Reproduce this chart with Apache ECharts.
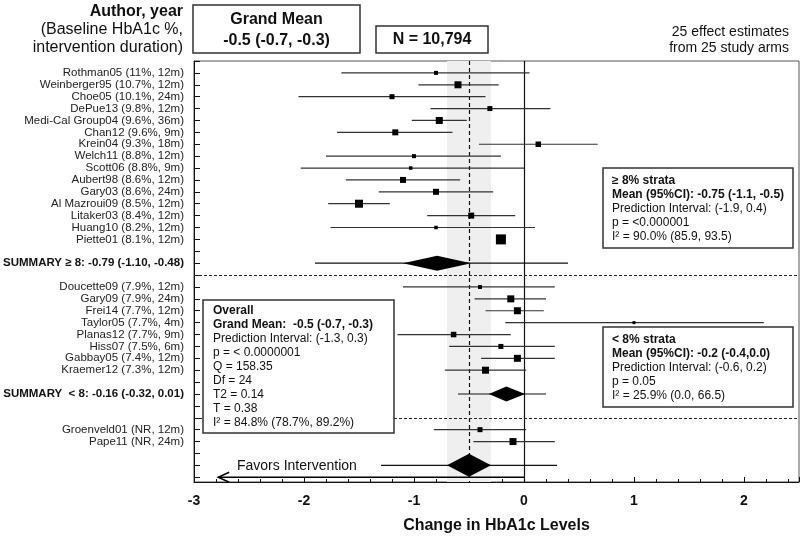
<!DOCTYPE html>
<html><head><meta charset="utf-8">
<script src="https://cdn.jsdelivr.net/npm/echarts@6/dist/echarts.min.js"></script>
<style>html,body{margin:0;padding:0;background:#fff}#c{width:800px;height:539px}</style>
</head><body><div id="c"></div>
<script>
// ---- data ----
const studyNames = ['Rothman05 (11%, 12m)','Weinberger95 (10.7%, 12m)','Choe05 (10.1%, 24m)','DePue13 (9.8%, 12m)','Medi-Cal Group04 (9.6%, 36m)','Chan12 (9.6%, 9m)','Krein04 (9.3%, 18m)','Welch11 (8.8%, 12m)','Scott06 (8.8%, 9m)','Aubert98 (8.6%, 12m)','Gary03 (8.6%, 24m)','Al Mazroui09 (8.5%, 12m)','Litaker03 (8.4%, 12m)','Huang10 (8.2%, 12m)','Piette01 (8.1%, 12m)','Doucette09 (7.9%, 12m)','Gary09 (7.9%, 24m)','Frei14 (7.7%, 12m)','Taylor05 (7.7%, 4m)','Planas12 (7.7%, 9m)','Hiss07 (7.5%, 6m)','Gabbay05 (7.4%, 12m)','Kraemer12 (7.3%, 12m)','Groenveld01 (NR, 12m)','Pape11 (NR, 24m)'];
const studyRows = [1,2,3,4,5,6,7,8,9,10,11,12,13,14,15,19,20,21,22,23,24,25,26,31,32];
const studyEst = [-0.80,-0.60,-1.20,-0.31,-0.77,-1.17,0.13,-1.00,-1.03,-1.10,-0.80,-1.50,-0.48,-0.80,-0.21,-0.40,-0.12,-0.06,1.00,-0.64,-0.21,-0.06,-0.35,-0.40,-0.10];
const studyLo  = [-1.66,-0.96,-2.05,-0.85,-1.02,-1.70,-0.41,-1.80,-2.03,-1.62,-1.32,-1.78,-0.88,-1.76,-0.24,-1.10,-0.45,-0.35,-0.17,-1.15,-0.68,-0.39,-0.72,-0.82,-0.46];
const studyHi  = [0.05,-0.23,-0.35,0.24,-0.52,-0.65,0.67,-0.21,0.00,-0.58,-0.28,-1.22,-0.08,0.10,-0.18,0.28,0.20,0.18,2.18,-0.12,0.28,0.28,0.02,0.02,0.28];
const studyWeight = [4,7,5,5,7,6,5.5,4,3.5,6,6,8,6,3.5,10,4,7,7,3,5.5,5,7,7,5,7];

const summaryLabels = ['SUMMARY \u2265 8: -0.79 (-1.10, -0.48)','SUMMARY  < 8: -0.16 (-0.32, 0.01)'];
const summaryRows = [17,28];
const summaryEst = [-0.79,-0.16];
const summaryLo = [-1.10,-0.32];
const summaryHi = [-0.48,0.01];
const summaryPredLo = [-1.9,-0.6];
const summaryPredHi = [0.4,0.2];

const overallRow = 34, overallEst = -0.5, overallLo = -0.7, overallHi = -0.3, overallPredLo = -1.3, overallPredHi = 0.3;
const strataDividerRows = [18,30];
const arrowRow = 35, arrowFrom = 0, arrowTo = -2.78;
const xTicks = [-3,-2,-1,0,1,2];

// ---- build ----
const FONT = '"Liberation Sans", Arial, sans-serif';
const labelByRow = {};
studyRows.forEach((r,i)=>labelByRow[r]='{n|'+studyNames[i]+'}');
summaryRows.forEach((r,i)=>labelByRow[r]='{b|'+summaryLabels[i]+'}');

const studyData = studyRows.map((r,i)=>[r,studyEst[i],studyLo[i],studyHi[i],studyWeight[i]]);
const diamondData = summaryRows.map((r,i)=>[r,summaryEst[i],summaryLo[i],summaryHi[i],summaryPredLo[i],summaryPredHi[i],7.5]);
diamondData.push([overallRow,overallEst,overallLo,overallHi,overallPredLo,overallPredHi,11.5]);

const chart = echarts.init(document.getElementById('c'));

function txt(x,y,text,opt){
  opt = opt||{};
  return {type:'text', z:100, style:{x:x,y:y,text:text,fill:'#111',
    font:(opt.bold?'bold ':'')+(opt.size||12)+'px '+FONT,
    align:opt.align||'left', verticalAlign:'middle'}};
}
function box(x,y,w,h){
  return {type:'rect', z:90, shape:{x:x,y:y,width:w,height:h}, style:{fill:'#fff',stroke:'#333',lineWidth:1.5}};
}
const graphics = [];
graphics.push(txt(183,12,'Author, year',{bold:true,size:16,align:'right'}));
graphics.push(txt(183,30,'(Baseline HbA1c %,',{size:16,align:'right'}));
graphics.push(txt(183,48,'intervention duration)',{size:16,align:'right'}));
graphics.push(box(193,5,167,48));
graphics.push(txt(276.5,20,'Grand Mean',{bold:true,size:16,align:'center'}));
graphics.push(txt(276.5,41,'-0.5 (-0.7, -0.3)',{bold:true,size:16,align:'center'}));
graphics.push(box(376,26,112,27));
graphics.push(txt(432,40,'N = 10,794',{bold:true,size:16,align:'center'}));
graphics.push(txt(789,32,'25 effect estimates',{size:14,align:'right'}));
graphics.push(txt(789,48,'from 25 study arms',{size:14,align:'right'}));

// >=8 box
graphics.push(box(603,168,190,80));
[['\u2265 8% strata',true],['Mean (95%CI): -0.75 (-1.1, -0.5)',true],['Prediction Interval: (-1.9, 0.4)',false],['p = <0.000001',false],['I\u00b2 = 90.0% (85.9, 93.5)',false]]
 .forEach((l,i)=>graphics.push(txt(612,181+i*13.8,l[0],{bold:l[1],size:12})));
// <8 box
graphics.push(box(603,327,190,80));
[['< 8% strata',true],['Mean (95%CI): -0.2 (-0.4,0.0)',true],['Prediction Interval: (-0.6, 0.2)',false],['p = 0.05',false],['I\u00b2 = 25.9% (0.0, 66.5)',false]]
 .forEach((l,i)=>graphics.push(txt(612,340+i*13.9,l[0],{bold:l[1],size:12})));
// overall box
graphics.push(box(203,300,191,133));
[['Overall',true],['Grand Mean:  -0.5 (-0.7, -0.3)',true],['Prediction Interval: (-1.3, 0.3)',false],['p = < 0.0000001',false],['Q = 158.35',false],['Df = 24',false],['T2 = 0.14',false],['T = 0.38',false],['I\u00b2 = 84.8% (78.7%, 89.2%)',false]]
 .forEach((l,i)=>graphics.push(txt(213,311+i*14,l[0],{bold:l[1],size:12})));
graphics.push(txt(237,466,'Favors Intervention',{size:14}));

const option = {
  animation:false,
  textStyle:{fontFamily:FONT},
  grid:{left:193,right:1,top:61,bottom:57,show:true,borderColor:'#555',borderWidth:1,backgroundColor:'transparent'},
  xAxis:{type:'value',min:-3,max:2.5,interval:1,position:'bottom',
    name:'Change in HbA1c Levels',nameLocation:'middle',nameGap:36,
    nameTextStyle:{fontWeight:'bold',fontSize:16,color:'#111',fontFamily:FONT},
    axisLine:{show:true,onZero:false,lineStyle:{color:'#111',width:1}},
    axisTick:{show:true,inside:true,length:5,lineStyle:{color:'#111'}},
    minorTick:{show:true,splitNumber:5,length:3,lineStyle:{color:'#111'}},
    splitLine:{show:false},
    axisLabel:{margin:12,fontWeight:'bold',fontSize:14,color:'#111',fontFamily:FONT,showMaxLabel:false,
      formatter:v=>xTicks.indexOf(Math.round(v*1000)/1000)>=0?String(Math.round(v)):''}},
  yAxis:{type:'value',inverse:true,min:0,max:35.4,interval:1,position:'left',
    axisLine:{show:true,onZero:false,lineStyle:{color:'#111'}},
    axisTick:{show:true,inside:true,length:6,lineStyle:{color:'#111'}},
    splitLine:{show:false},
    axisLabel:{margin:10,color:'#222',fontFamily:FONT,showMaxLabel:false,
      formatter:v=>labelByRow[v]||'',
      rich:{n:{fontSize:11.5,color:'#222',fontFamily:FONT},b:{fontSize:11.5,fontWeight:'bold',color:'#111',fontFamily:FONT}}}},
  graphic:graphics,
  series:[
    {type:'custom',name:'ref',z:1,silent:true,data:[[0,0]],encode:{x:1,y:0},
      renderItem:()=>({type:'group',children:[]}),
      markArea:{silent:true,itemStyle:{color:'#efefef'},data:[[{xAxis:overallLo},{xAxis:overallHi}]]},
      markLine:{silent:true,symbol:'none',label:{show:false},
        data:[
          {xAxis:0,lineStyle:{color:'#111',type:'solid',width:1.2}},
          {xAxis:overallEst,lineStyle:{color:'#111',type:[4,3],width:1.2}},
          {yAxis:strataDividerRows[0],lineStyle:{color:'#222',type:[3,2],width:1}},
          {yAxis:strataDividerRows[1],lineStyle:{color:'#222',type:[3,2],width:1}}
        ]}},
    {type:'custom',name:'studies',z:5,data:studyData,encode:{x:1,y:0},
      renderItem:function(params,api){
        const r=api.value(0),e=api.value(1),lo=api.value(2),hi=api.value(3),w=api.value(4);
        const pl=api.coord([lo,r]),ph=api.coord([hi,r]),pe=api.coord([e,r]);
        return {type:'group',children:[
          {type:'line',shape:{x1:pl[0],y1:pl[1],x2:ph[0],y2:ph[1]},style:{stroke:'#333',lineWidth:1.2}},
          {type:'rect',shape:{x:pe[0]-w/2,y:pe[1]-w/2,width:w,height:w},style:{fill:'#000'}}
        ]};
      }},
    {type:'custom',name:'diamonds',z:6,data:diamondData,encode:{x:1,y:0},
      renderItem:function(params,api){
        const r=api.value(0),e=api.value(1),lo=api.value(2),hi=api.value(3),pl=api.value(4),ph=api.value(5),h=api.value(6);
        const a=api.coord([pl,r]),b=api.coord([ph,r]),c=api.coord([lo,r]),d=api.coord([hi,r]),m=api.coord([e,r]);
        return {type:'group',children:[
          {type:'line',shape:{x1:a[0],y1:a[1],x2:b[0],y2:b[1]},style:{stroke:'#111',lineWidth:1.2}},
          {type:'polygon',shape:{points:[[c[0],c[1]],[m[0],m[1]-h],[d[0],d[1]],[m[0],m[1]+h]]},style:{fill:'#000'}}
        ]};
      }},
    {type:'custom',name:'arrow',z:6,data:[[arrowRow,arrowFrom,arrowTo]],encode:{x:1,y:0},
      renderItem:function(params,api){
        const r=api.value(0),f=api.coord([api.value(1),r]),t=api.coord([api.value(2),r]);
        return {type:'group',children:[
          {type:'line',shape:{x1:f[0],y1:f[1],x2:t[0],y2:t[1]},style:{stroke:'#000',lineWidth:1.5}},
          {type:'polyline',shape:{points:[[t[0]+11,t[1]-5],[t[0],t[1]],[t[0]+11,t[1]+5]]},style:{stroke:'#000',lineWidth:1.5,fill:null}}
        ]};
      }}
  ]
};
chart.setOption(option);
</script></body></html>
